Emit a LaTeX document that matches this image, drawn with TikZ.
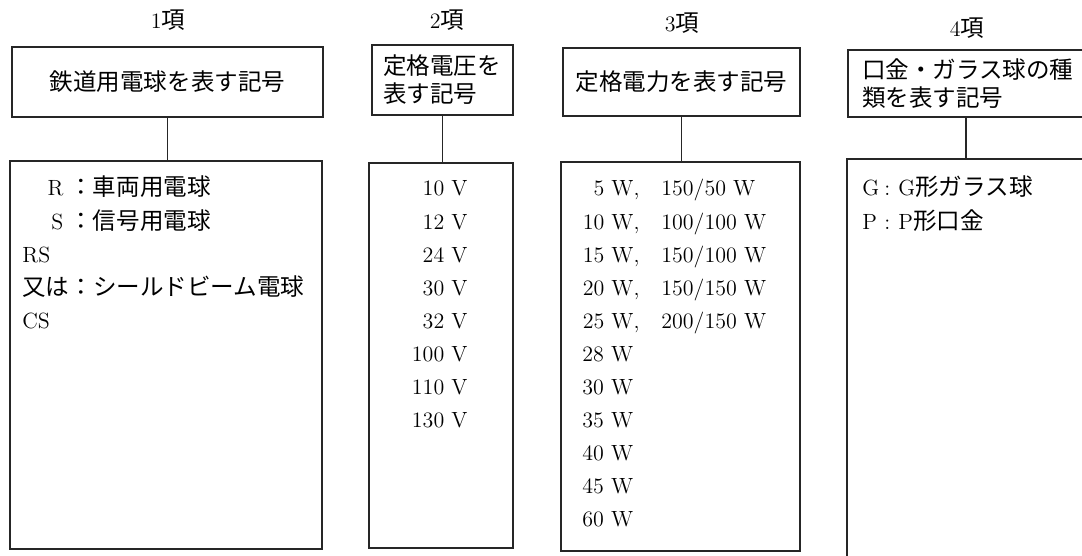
\documentclass[tikz,border=0pt]{standalone}
\usepackage{fontspec}
\newfontfamily\cjk{Noto Sans CJK JP}[Scale=1.07]
\begin{document}
\begin{tikzpicture}[x=0.5pt,y=-0.5pt,
  every node/.style={font=\fontsize{11}{14}\selectfont, inner sep=0pt},
  hbox/.style={draw=black!85, line width=0.7pt, rectangle},
  bbox/.style={draw=black!85, line width=0.7pt, rectangle},
  conn/.style={draw=black!85, line width=0.6pt},
  lw/.style={anchor=base west},
  le/.style={anchor=base east},
  ttl/.style={anchor=center}]
\useasboundingbox (0,0) rectangle (1082,556);
\clip (0,0) rectangle (1082,556);
\fill[white] (0,0) rectangle (1082,556);

% titles
\node[ttl] (t1) at (168,20) {1{\cjk 項}};
\node[ttl] (t2) at (447,20) {2{\cjk 項}};
\node[ttl] (t3) at (682,23) {3{\cjk 項}};
\node[ttl] (t4) at (967,28) {4{\cjk 項}};

% header boxes
\node[hbox, minimum width=155.5pt, minimum height=35pt] (h1) at (167.5,82) {\cjk 鉄道用電球を表す記号};
\node[hbox, minimum width=70.5pt, minimum height=35pt, inner xsep=5.5pt, text width=59.5pt, align=left] (h2) at (442.5,80) {\cjk 定格電圧を\\表す記号};
\node[hbox, minimum width=118.5pt, minimum height=34pt] (h3) at (681.5,82) {\cjk 定格電力を表す記号};
\node[hbox, minimum width=121pt, minimum height=33.5pt, inner xsep=7pt, text width=107pt, align=left] (h4) at (969,83.5) {\cjk 口金・ガラス球の種\\類を表す記号};

% body boxes
\node[bbox, minimum width=156pt, minimum height=194pt] (b1) at (166,355) {};
\node[bbox, minimum width=72pt, minimum height=192.5pt] (b2) at (441,355.5) {};
\node[bbox, minimum width=119.5pt, minimum height=194.5pt] (b3) at (680.5,356.5) {};
\node[bbox, minimum width=121.5pt, minimum height=205.5pt] (b4) at (968.5,364.5) {};

% connectors
\draw[conn] (h1.south) -- (h1.south |- b1.north);
\draw[conn] (h2.south) -- (h2.south |- b2.north);
\draw[conn] (h3.south) -- (h3.south |- b3.north);
\draw[conn] ([xshift=-1.5pt]h4.south) -- ([xshift=-1.5pt]h4.south |- b4.north);

% column 1
\node[lw] (a1) at (22,196) {\makebox[23.5pt][r]{R\hspace{3pt}}{\cjk ：車両用電球}};
\node[lw] (a2) at (22,229) {\makebox[23.5pt][r]{S\hspace{3pt}}{\cjk ：信号用電球}};
\node[lw] (a3) at (22,262) {RS};
\node[lw] (a4) at (22,295) {\cjk 又は：シールドビーム電球};
\node[lw] (a5) at (22,328) {CS};

% column 2
\node[le] (v1) at (468,196) {10 V};
\node[le] (v2) at (468,229) {12 V};
\node[le] (v3) at (468,262) {24 V};
\node[le] (v4) at (468,295) {30 V};
\node[le] (v5) at (468,328) {32 V};
\node[le] (v6) at (468,361) {100 V};
\node[le] (v7) at (468,394) {110 V};
\node[le] (v8) at (468,427) {130 V};

% column 3
\node[le] (w1) at (640,196) {5 W,};
\node[le] (w2) at (640,229) {10 W,};
\node[le] (w3) at (640,262) {15 W,};
\node[le] (w4) at (640,295) {20 W,};
\node[le] (w5) at (640,328) {25 W,};
\node[lw] (x1) at (661,196) {150/50 W};
\node[lw] (x2) at (661,229) {100/100 W};
\node[lw] (x3) at (661,262) {150/100 W};
\node[lw] (x4) at (661,295) {150/150 W};
\node[lw] (x5) at (661,328) {200/150 W};
\node[lw] (w6) at (582,361) {28 W};
\node[lw] (w7) at (582,394) {30 W};
\node[lw] (w8) at (582,427) {35 W};
\node[lw] (w9) at (582,460) {40 W};
\node[lw] (w10) at (582,493) {45 W};
\node[lw] (w11) at (582,526) {60 W};

% column 4
\node[lw] (g1) at (862,196) {\makebox[11pt][l]{G}:\hspace{4pt}G{\cjk 形ガラス球}};
\node[lw] (g2) at (862,229) {\makebox[11pt][l]{P}:\hspace{4pt}P{\cjk 形口金}};
\end{tikzpicture}
\end{document}
